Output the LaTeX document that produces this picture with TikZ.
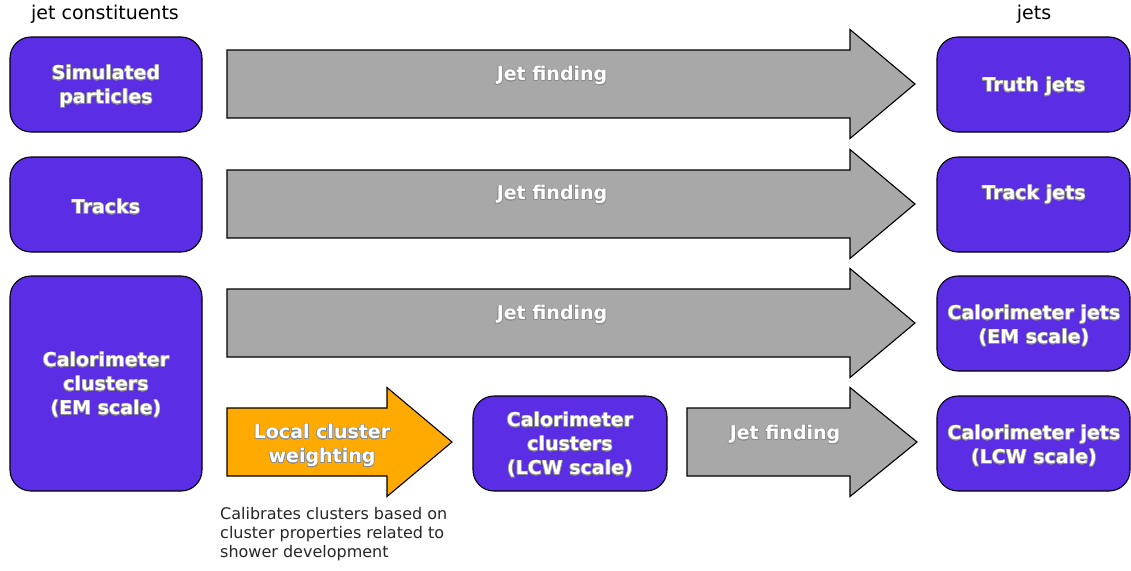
\documentclass[tikz,border=0pt]{standalone}
\usepackage{fontspec}
\setmainfont{DejaVu Sans}
\usepackage{contour}
\contourlength{0.6pt}
\contournumber{16}
\definecolor{boxpurple}{RGB}{91,46,230}
\definecolor{arrgray}{RGB}{168,168,168}
\definecolor{arrorange}{RGB}{255,170,0}
\newcommand{\gw}[1]{\contour{black!45}{#1}}
\tikzset{
  jbox/.style={draw=black, line width=1.1pt, fill=boxpurple, rounded corners=21pt},
  btxt/.style={text=white, font=\bfseries\fontsize{19}{24}\selectfont, align=center, inner sep=0pt},
  rtxt/.style={text=black, font=\fontsize{19}{23}\selectfont, inner sep=0pt},
  ctxt/.style={text=black!85, font=\fontsize{16}{19}\selectfont, align=left, inner sep=0pt},
  arr/.style={draw=black, line width=1.1pt},
}
\newcommand{\bigarr}[8]{% name, x1, xh, xt, yc, bodyhalf, headhalf, color
  \draw[arr, fill=#8] (#2,#5-#6) -- (#3,#5-#6) -- (#3,#5-#7) -- (#4,#5) -- (#3,#5+#7) -- (#3,#5+#6) -- (#2,#5+#6) -- cycle;
  \coordinate (#1-tail) at (#2,#5);
  \coordinate (#1-tip) at (#4,#5);
}
\begin{document}
\begin{tikzpicture}[x=1pt,y=-1pt]
\useasboundingbox (0,0) rectangle (1131,570);

% headers
\node[rtxt] (hcon) at (105,14) {jet constituents};
\node[rtxt] (hjets) at (1034,14) {jets};

% left boxes
\draw[jbox] (10,37) rectangle (202,132);
\node[btxt] (sim) at (106,87) {\gw{Simulated}\\\gw{particles}};
\draw[jbox] (10,157) rectangle (202,252);
\node[btxt] (trk) at (106,207) {\gw{Tracks}};
\draw[jbox] (10,276) rectangle (202,491);
\node[btxt] (cce) at (106,385) {\gw{Calorimeter}\\\gw{clusters}\\\gw{(EM scale)}};

% right boxes
\draw[jbox] (937,37) rectangle (1130,132);
\node[btxt] (tj) at (1034,87) {\gw{Truth jets}};
\draw[jbox] (937,157) rectangle (1130,252);
\node[btxt] (tkj) at (1034,195) {\gw{Track jets}};
\draw[jbox] (937,276) rectangle (1130,371);
\node[btxt] (cje) at (1034,326) {\gw{Calorimeter jets}\\\gw{(EM scale)}};
\draw[jbox] (937,396) rectangle (1130,491);
\node[btxt] (cjl) at (1034,446) {\gw{Calorimeter jets}\\\gw{(LCW scale)}};

% middle box
\draw[jbox] (473,396) rectangle (667,491);
\node[btxt] (ccl) at (570,445) {\gw{Calorimeter}\\\gw{clusters}\\\gw{(LCW scale)}};

% arrows
\bigarr{a1}{227}{850}{915}{84}{34}{54.5}{arrgray}
\node[btxt] (j1) at (552,76) {\gw{Jet finding}};
\bigarr{a2}{227}{850}{915}{204}{34}{54.5}{arrgray}
\node[btxt] (j2) at (552,195) {\gw{Jet finding}};
\bigarr{a3}{227}{850}{915}{323}{34}{54.5}{arrgray}
\node[btxt] (j3) at (552,315) {\gw{Jet finding}};
\bigarr{a4}{687}{850}{917}{442}{34}{54.5}{arrgray}
\node[btxt] (j4) at (785,435) {\gw{Jet finding}};
\bigarr{a5}{227}{387}{452}{442}{34}{54.5}{arrorange}
\node[btxt] (lcw) at (322,446) {\gw{Local cluster}\\\gw{weighting}};

% caption
\node[ctxt, anchor=north west] (cap) at (220,507) {Calibrates clusters based on\\cluster properties related to\\shower development};
\end{tikzpicture}
\end{document}
